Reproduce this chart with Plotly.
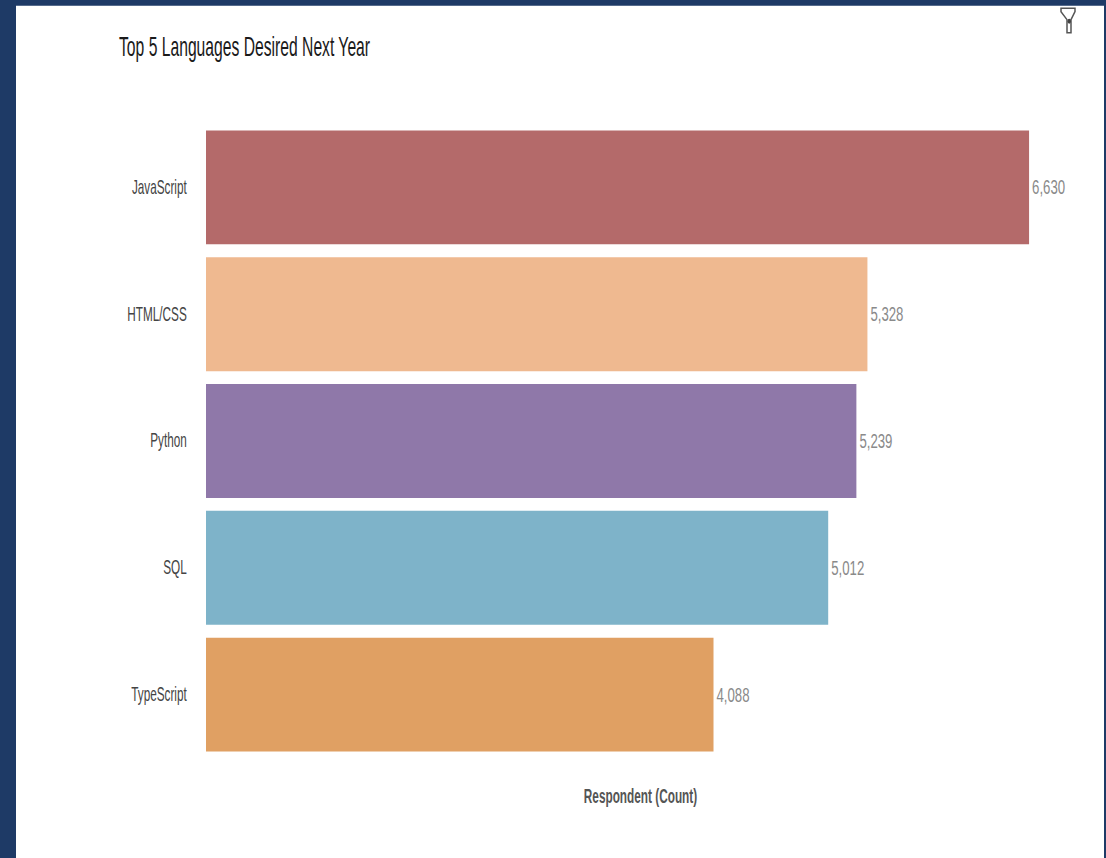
import plotly.graph_objects as go

languages = ["JavaScript", "HTML/CSS", "Python", "SQL", "TypeScript"]
respondents = [6630, 5328, 5239, 5012, 4088]
bar_colors = ["#B46A6A", "#EFB990", "#8F78A9", "#7EB3C9", "#E0A063"]
title_text = "Top 5 Languages Desired Next Year"
axis_title = "Respondent (Count)"

W, H = 1106, 858
L, R, T, B = 206, 1075, 123.5, 758.5
SANS = "Liberation Sans, Arial, sans-serif"


def px(x):
    return (x - L) / (R - L)


def py(y):
    return (B - y) / (B - T)


funnel = [(1061, 7.5), (1075, 7.5), (1075, 11), (1071, 19), (1071, 32), (1067, 32), (1067, 19), (1061, 11)]
funnel_path = "M " + " L ".join(f"{px(a):.5f},{py(b):.5f}" for a, b in funnel) + " Z"

fig = go.Figure(
    go.Bar(
        x=respondents,
        y=languages,
        orientation="h",
        marker=dict(color=bar_colors, line=dict(width=0)),
        text=[f"{v:,}" for v in respondents],
        textposition="outside",
        constraintext="none",
        cliponaxis=False,
        textfont=dict(family=SANS, size=20, color="#8A8A8A"),
        hovertemplate="%{y}: %{x:,}<extra></extra>",
    )
)

fig.update_layout(
    width=W,
    height=H,
    autosize=False,
    margin=dict(l=L, r=W - R, t=T, b=H - B),
    paper_bgcolor="#1E3A66",
    plot_bgcolor="#FFFFFF",
    bargap=0.102,
    showlegend=False,
    title=dict(
        text=title_text,
        x=119 / W,
        xanchor="left",
        y=1 - 46 / H,
        yanchor="middle",
        font=dict(family=SANS, size=28, color="#1A1A1A"),
    ),
    shapes=[
        dict(
            type="rect", xref="paper", yref="paper",
            x0=px(16), x1=px(1104), y0=py(H + 2), y1=py(5),
            fillcolor="#FFFFFF", line=dict(width=0), layer="below",
        ),
        dict(
            type="path", xref="paper", yref="paper", path=funnel_path,
            fillcolor="rgba(0,0,0,0)", line=dict(color="#555555", width=1.5),
        ),
        dict(
            type="circle", xref="paper", yref="paper",
            x0=px(1067.5), x1=px(1071), y0=py(23), y1=py(18),
            fillcolor="#444444", line=dict(width=0),
        ),
    ],
    xaxis=dict(
        range=[0, 7000],
        showgrid=False,
        zeroline=False,
        showticklabels=False,
        ticks="",
        showline=False,
        title=dict(
            text=axis_title,
            font=dict(family=SANS, size=20, color="#555555", weight=700),
            standoff=30,
        ),
    ),
    yaxis=dict(
        categoryorder="array",
        categoryarray=languages[::-1],
        showgrid=False,
        zeroline=False,
        showline=False,
        ticks="outside",
        ticklen=14,
        tickcolor="rgba(0,0,0,0)",
        tickfont=dict(family=SANS, size=21, color="#444444"),
    ),
)

# The reference's lettering is horizontally condensed; no narrow font is installed,
# so the real text is squeezed with SVG textLength. Centre-anchored value labels get
# a dx so they still start right after their bars.
squeeze_js = """
document.body.style.margin='0';
document.body.style.overflow='hidden';
[['.gtitle',0.56,0,0],['.ytick text',0.56,0,-1],['.bartext',0.66,1,0],['.xtitle',0.59,0,0]].forEach(function(p){
  document.querySelectorAll(p[0]).forEach(function(t){
    var w=t.getComputedTextLength();
    t.setAttribute('textLength', w*p[1]);
    t.setAttribute('lengthAdjust','spacingAndGlyphs');
    if(p[2]) t.setAttribute('dx', -w*(1-p[1])/2);
    if(p[3]) t.setAttribute('dy', p[3]);
  });
});
"""

fig.write_html("out.html", config={"displayModeBar": False}, post_script=squeeze_js)
